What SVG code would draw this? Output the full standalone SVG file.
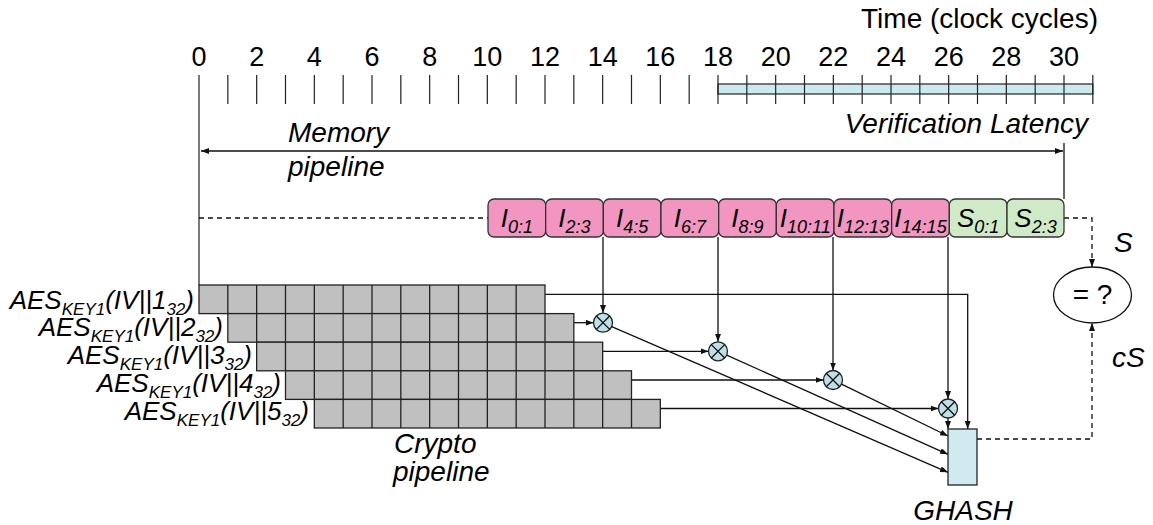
<svg xmlns="http://www.w3.org/2000/svg" width="1153" height="525" viewBox="0 0 1153 525">
  <style>
    text { font-family: "Liberation Sans", Arial, sans-serif; fill: #000; }
    .lbl { font-size: 28px; }
    .num { font-size: 27px; text-anchor: middle; }
    .it { font-style: italic; }
    .blk { font-size: 26px; font-style: italic; text-anchor: middle; }
    .sub { font-size: 18px; }
    .aes { font-size: 26px; font-style: italic; text-anchor: end; }
    .aes .s { font-size: 17px; }
    .tick { stroke: #222; stroke-width: 1.2; fill: none; }
    .ln { stroke: #111; stroke-width: 1.3; fill: none; }
    .dash { stroke: #111; stroke-width: 1.3; fill: none; stroke-dasharray: 5 4; }
    .row { fill: #c0c0c0; stroke: #222; stroke-width: 1.3; }
    .div { stroke: #222; stroke-width: 1.3; fill: none; }
    .mem { fill: #f295c0; stroke: #333; stroke-width: 1.3; }
    .tag { fill: #d0eac8; stroke: #333; stroke-width: 1.3; }
    .xor { fill: #bfe0e6; stroke: #222; stroke-width: 1.3; }
  </style>
  <defs>
    <marker id="ah" viewBox="0 0 8 6" markerWidth="8" markerHeight="6" refX="8" refY="3" orient="auto-start-reverse" markerUnits="userSpaceOnUse">
      <path d="M0,0 L8,3 L0,6 z" fill="#111"/>
    </marker>
  </defs>

  <!-- time axis -->
  <g id="timeline">
    <text class="lbl" x="1098" y="28" text-anchor="end">Time (clock cycles)</text>
    <rect x="718" y="84" width="374.83" height="10" fill="#cde9f0" stroke="#222" stroke-width="1.2"/>
    <path class="tick" d="M199,75V285 M227.83,75V104 M256.67,75V104 M285.5,75V104 M314.33,75V104 M343.17,75V104 M372,75V104 M400.83,75V104 M429.67,75V104 M458.5,75V104 M487.33,75V104 M516.17,75V104 M545,75V104 M573.83,75V104 M602.67,75V104 M631.5,75V104 M660.33,75V104 M689.17,75V104 M718,75V104 M746.83,75V104 M775.67,75V104 M804.5,75V104 M833.33,75V104 M862.17,75V104 M891,75V104 M919.83,75V104 M948.67,75V104 M977.5,75V104 M1006.33,75V104 M1035.17,75V104 M1064,75V104 M1092.83,75V104"/>
    <text class="num" x="199" y="66">0</text>
    <text class="num" x="256.67" y="66">2</text>
    <text class="num" x="314.33" y="66">4</text>
    <text class="num" x="372" y="66">6</text>
    <text class="num" x="429.67" y="66">8</text>
    <text class="num" x="487.33" y="66">10</text>
    <text class="num" x="545" y="66">12</text>
    <text class="num" x="602.67" y="66">14</text>
    <text class="num" x="660.33" y="66">16</text>
    <text class="num" x="718" y="66">18</text>
    <text class="num" x="775.67" y="66">20</text>
    <text class="num" x="833.33" y="66">22</text>
    <text class="num" x="891" y="66">24</text>
    <text class="num" x="948.67" y="66">26</text>
    <text class="num" x="1006.33" y="66">28</text>
    <text class="num" x="1064" y="66">30</text>
    <text class="lbl it" x="1088" y="133" text-anchor="end">Verification Latency</text>
    <text class="lbl it" x="288" y="142">Memory</text>
    <text class="lbl it" x="288" y="176">pipeline</text>
  </g>

  <!-- connectors -->
  <g id="connectors">
    <path class="ln" d="M201,151 H1063" marker-start="url(#ah)" marker-end="url(#ah)"/>
    <path class="ln" d="M1064,143 V199"/>
    <path class="dash" d="M199,218 H488"/>
    <path class="dash" d="M1064,218 H1092 V267" marker-end="url(#ah)"/>
    <path class="dash" d="M977,439 H1092 V323" marker-end="url(#ah)"/>
    <!-- memory blocks into the XOR units -->
    <path class="ln" d="M603,237 V313" marker-end="url(#ah)"/>
    <path class="ln" d="M718,237 V341.8" marker-end="url(#ah)"/>
    <path class="ln" d="M833,237 V370.5" marker-end="url(#ah)"/>
    <path class="ln" d="M948,237 V399" marker-end="url(#ah)"/>
    <!-- keystream rows -->
    <path class="ln" d="M545,294.3 H967.7 V429" marker-end="url(#ah)"/>
    <path class="ln" d="M573.8,322.7 H593.5" marker-end="url(#ah)"/>
    <path class="ln" d="M602.7,351.3 H708.5" marker-end="url(#ah)"/>
    <path class="ln" d="M631.5,380 H823.5" marker-end="url(#ah)"/>
    <path class="ln" d="M660.3,408.5 H938.5" marker-end="url(#ah)"/>
    <!-- XOR outputs into GHASH -->
    <path class="ln" d="M611.7,326.6 L948,472.3" marker-end="url(#ah)"/>
    <path class="ln" d="M726.7,355.2 L948,454.3" marker-end="url(#ah)"/>
    <path class="ln" d="M841.5,384.2 L948,436" marker-end="url(#ah)"/>
    <path class="ln" d="M948,418 V429" marker-end="url(#ah)"/>
  </g>

  <!-- memory pipeline blocks -->
  <g id="mem-blocks">
    <g id="i01"><rect class="mem" x="488" y="199" width="57.67" height="38" rx="6"/><text class="blk" x="516.8" y="226.5">I<tspan class="sub" dy="6">0:1</tspan></text></g>
    <g id="i23"><rect class="mem" x="545.67" y="199" width="57.67" height="38" rx="6"/><text class="blk" x="574.5" y="226.5">I<tspan class="sub" dy="6">2:3</tspan></text></g>
    <g id="i45"><rect class="mem" x="603.33" y="199" width="57.67" height="38" rx="6"/><text class="blk" x="632.2" y="226.5">I<tspan class="sub" dy="6">4:5</tspan></text></g>
    <g id="i67"><rect class="mem" x="661" y="199" width="57.67" height="38" rx="6"/><text class="blk" x="689.8" y="226.5">I<tspan class="sub" dy="6">6:7</tspan></text></g>
    <g id="i89"><rect class="mem" x="718.67" y="199" width="57.67" height="38" rx="6"/><text class="blk" x="747.5" y="226.5">I<tspan class="sub" dy="6">8:9</tspan></text></g>
    <g id="i1011"><rect class="mem" x="776.33" y="199" width="57.67" height="38" rx="6"/><text class="blk" x="805.2" y="226.5">I<tspan class="sub" dy="6">10:11</tspan></text></g>
    <g id="i1213"><rect class="mem" x="834" y="199" width="57.67" height="38" rx="6"/><text class="blk" x="862.8" y="226.5">I<tspan class="sub" dy="6">12:13</tspan></text></g>
    <g id="i1415"><rect class="mem" x="891.67" y="199" width="57.67" height="38" rx="6"/><text class="blk" x="920.5" y="226.5">I<tspan class="sub" dy="6">14:15</tspan></text></g>
    <g id="s01"><rect class="tag" x="949.33" y="199" width="57.67" height="38" rx="6"/><text class="blk" x="978.2" y="226.5">S<tspan class="sub" dy="6">0:1</tspan></text></g>
    <g id="s23"><rect class="tag" x="1007" y="199" width="57" height="38" rx="6"/><text class="blk" x="1035.5" y="226.5">S<tspan class="sub" dy="6">2:3</tspan></text></g>
  </g>

  <!-- crypto pipeline: five staggered rows of twelve stages -->
  <g id="crypto">
    <g id="row1">
      <rect class="row" x="199" y="285" width="346" height="28.6"/>
      <path class="div" d="M227.83,285v28.6 M256.67,285v28.6 M285.5,285v28.6 M314.33,285v28.6 M343.17,285v28.6 M372,285v28.6 M400.83,285v28.6 M429.67,285v28.6 M458.5,285v28.6 M487.33,285v28.6 M516.17,285v28.6"/>
      <text class="aes" x="194" y="308.5">AES<tspan class="s" dy="6">KEY1</tspan><tspan dy="-6">(IV||1</tspan><tspan class="s" dy="6">32</tspan><tspan dy="-6">)</tspan></text>
    </g>
    <g id="row2">
      <rect class="row" x="227.83" y="313.6" width="346" height="28.6"/>
      <path class="div" d="M256.67,313.6v28.6 M285.5,313.6v28.6 M314.33,313.6v28.6 M343.17,313.6v28.6 M372,313.6v28.6 M400.83,313.6v28.6 M429.67,313.6v28.6 M458.5,313.6v28.6 M487.33,313.6v28.6 M516.17,313.6v28.6 M545,313.6v28.6"/>
      <text class="aes" x="223" y="336">AES<tspan class="s" dy="6">KEY1</tspan><tspan dy="-6">(IV||2</tspan><tspan class="s" dy="6">32</tspan><tspan dy="-6">)</tspan></text>
    </g>
    <g id="row3">
      <rect class="row" x="256.67" y="342.2" width="346" height="28.6"/>
      <path class="div" d="M285.5,342.2v28.6 M314.33,342.2v28.6 M343.17,342.2v28.6 M372,342.2v28.6 M400.83,342.2v28.6 M429.67,342.2v28.6 M458.5,342.2v28.6 M487.33,342.2v28.6 M516.17,342.2v28.6 M545,342.2v28.6 M573.83,342.2v28.6"/>
      <text class="aes" x="252" y="363.5">AES<tspan class="s" dy="6">KEY1</tspan><tspan dy="-6">(IV||3</tspan><tspan class="s" dy="6">32</tspan><tspan dy="-6">)</tspan></text>
    </g>
    <g id="row4">
      <rect class="row" x="285.5" y="370.8" width="346" height="28.6"/>
      <path class="div" d="M314.33,370.8v28.6 M343.17,370.8v28.6 M372,370.8v28.6 M400.83,370.8v28.6 M429.67,370.8v28.6 M458.5,370.8v28.6 M487.33,370.8v28.6 M516.17,370.8v28.6 M545,370.8v28.6 M573.83,370.8v28.6 M602.67,370.8v28.6"/>
      <text class="aes" x="281" y="392">AES<tspan class="s" dy="6">KEY1</tspan><tspan dy="-6">(IV||4</tspan><tspan class="s" dy="6">32</tspan><tspan dy="-6">)</tspan></text>
    </g>
    <g id="row5">
      <rect class="row" x="314.33" y="399.4" width="346" height="28.6"/>
      <path class="div" d="M343.17,399.4v28.6 M372,399.4v28.6 M400.83,399.4v28.6 M429.67,399.4v28.6 M458.5,399.4v28.6 M487.33,399.4v28.6 M516.17,399.4v28.6 M545,399.4v28.6 M573.83,399.4v28.6 M602.67,399.4v28.6 M631.5,399.4v28.6"/>
      <text class="aes" x="309" y="420">AES<tspan class="s" dy="6">KEY1</tspan><tspan dy="-6">(IV||5</tspan><tspan class="s" dy="6">32</tspan><tspan dy="-6">)</tspan></text>
    </g>
    <text class="lbl it" x="394" y="453">Crypto</text>
    <text class="lbl it" x="393" y="481">pipeline</text>
  </g>

  <!-- XOR units -->
  <g id="xor1"><circle class="xor" cx="603" cy="322.7" r="9.5"/><path class="ln" d="M596.3,316 L609.7,329.4 M609.7,316 L596.3,329.4"/></g>
  <g id="xor2"><circle class="xor" cx="718" cy="351.3" r="9.5"/><path class="ln" d="M711.3,344.6 L724.7,358 M724.7,344.6 L711.3,358"/></g>
  <g id="xor3"><circle class="xor" cx="833" cy="380" r="9.5"/><path class="ln" d="M826.3,373.3 L839.7,386.7 M839.7,373.3 L826.3,386.7"/></g>
  <g id="xor4"><circle class="xor" cx="948" cy="408.5" r="9.5"/><path class="ln" d="M941.3,401.8 L954.7,415.2 M954.7,401.8 L941.3,415.2"/></g>

  <!-- GHASH -->
  <g id="ghash">
    <rect x="948" y="429" width="29" height="56" fill="#d0ebf0" stroke="#222" stroke-width="1.3"/>
    <text class="lbl it" x="963" y="520" text-anchor="middle">GHASH</text>
  </g>

  <!-- tag comparison -->
  <g id="compare">
    <ellipse cx="1092.5" cy="295" rx="39" ry="28" fill="#fff" stroke="#111" stroke-width="1.3"/>
    <text class="lbl" x="1092.5" y="304" text-anchor="middle">= ?</text>
    <text class="lbl it" x="1114" y="252">S</text>
    <text class="lbl it" x="1112" y="367">cS</text>
  </g>
</svg>
